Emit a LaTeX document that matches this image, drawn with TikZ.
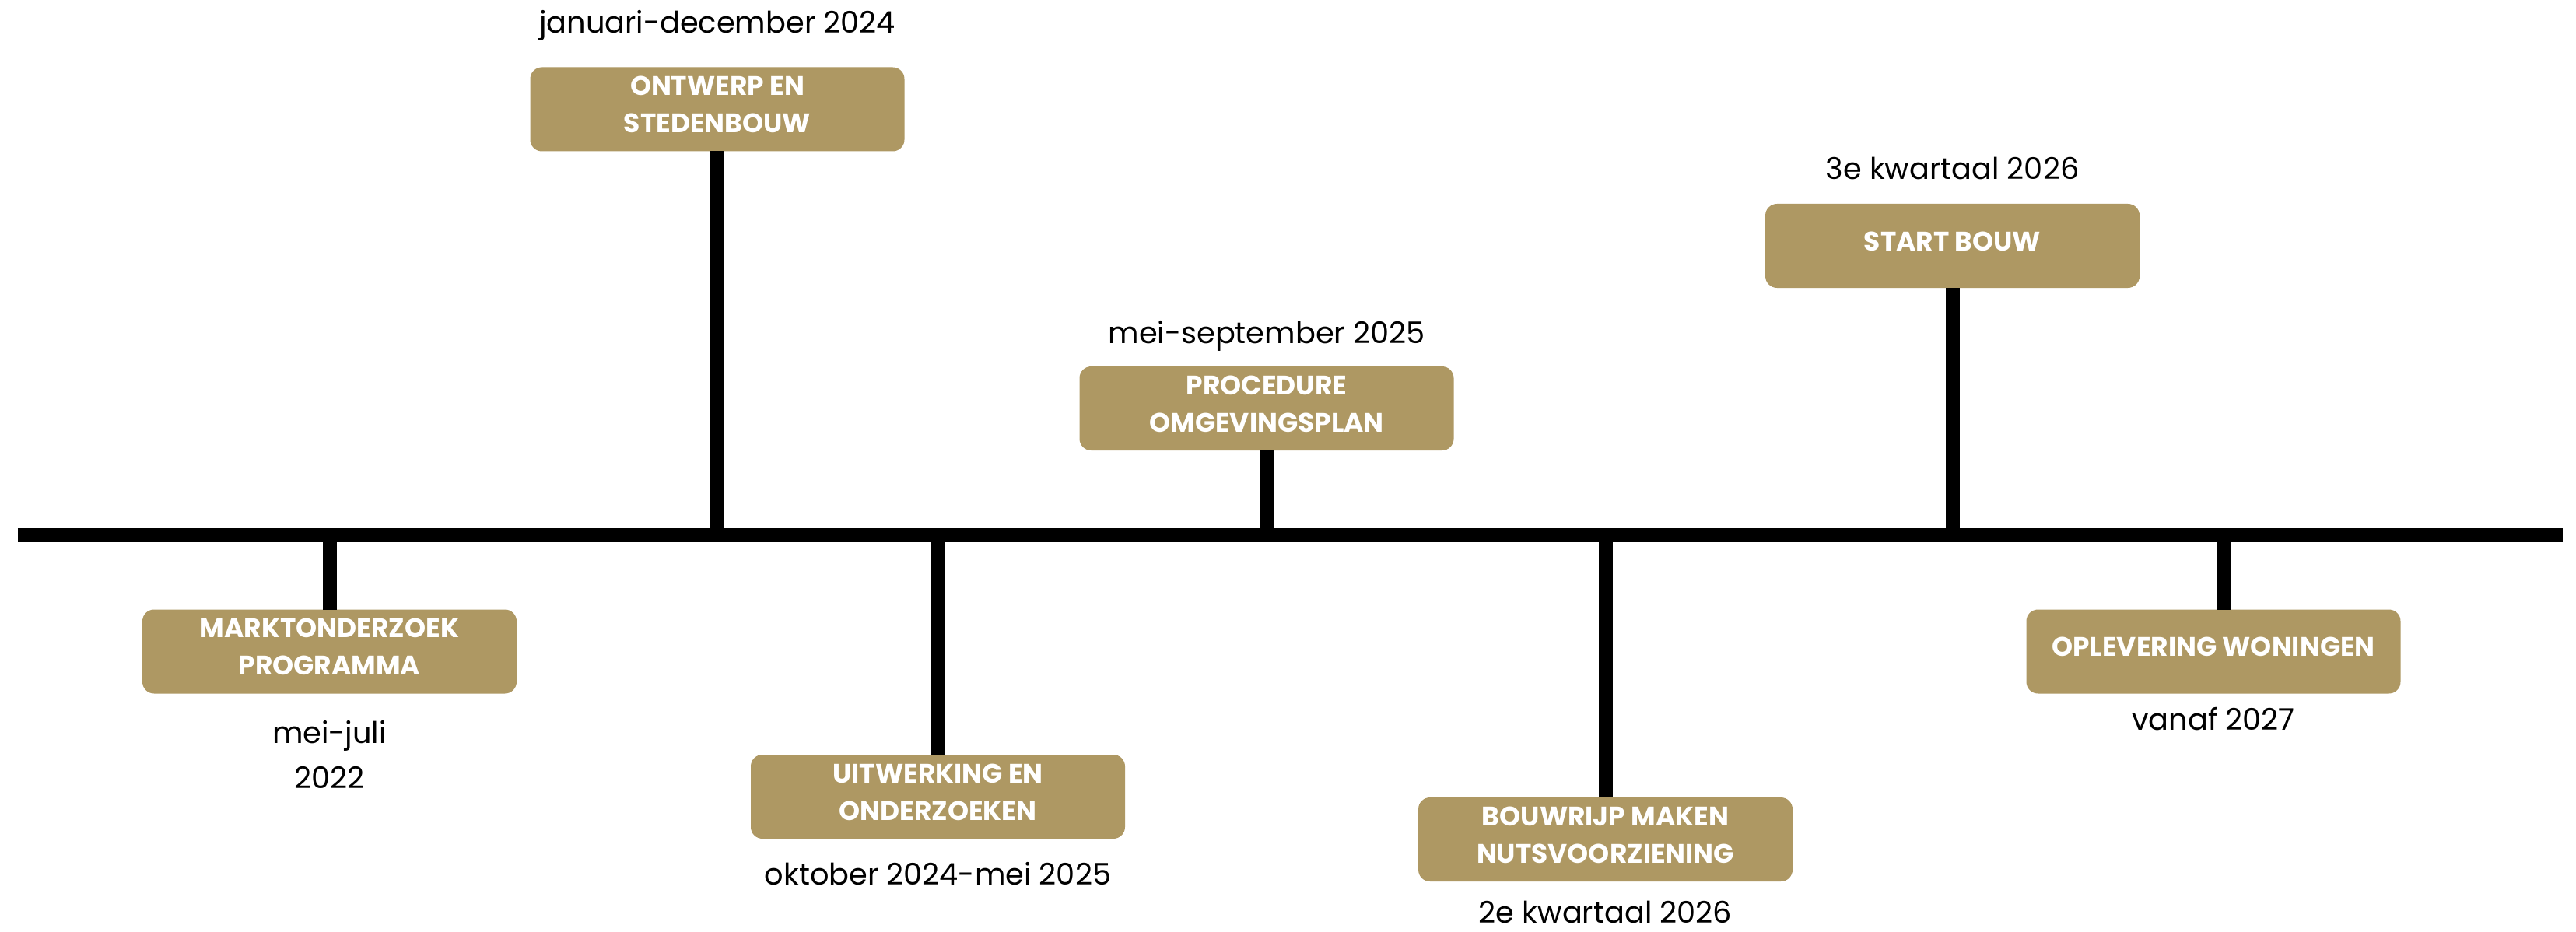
\documentclass[tikz,border=0pt]{standalone}
\usepackage{fontspec}
\setmainfont{Poppins}
\usepackage{xcolor}
\usepackage{tikz}
\usetikzlibrary{positioning}

\definecolor{goud}{RGB}{174,152,99}

\begin{document}
\begin{tikzpicture}[
  line width=0.18cm,
  fase/.style={fill=goud, text=white, rounded corners=0.15cm, align=center,
               minimum width=4.81cm, minimum height=1.08cm, inner sep=2pt,
               outer sep=0pt, text depth=0.12cm,
               font=\bfseries\fontsize{9.8}{13.6}\selectfont},
  datum/.style={align=center, inner sep=0pt,
                font=\fontsize{10.9}{16.5}\selectfont}
]
\useasboundingbox (0,0) rectangle (33.11,11.97);
\coordinate (links) at (0.23,5.09);
\coordinate (rechts) at (32.94,5.09);
\draw (links) -- (rechts);

\node[fase] (markt) at (4.235,3.595) {MARKTONDERZOEK\\PROGRAMMA};
\node[fase] (ontwerp) at (9.22,10.565) {ONTWERP EN\\STEDENBOUW};
\node[fase] (uitwerking) at (12.055,1.73) {UITWERKING EN\\ONDERZOEKEN};
\node[fase] (procedure) at (16.28,6.72) {PROCEDURE\\OMGEVINGSPLAN};
\node[fase] (bouwrijp) at (20.635,1.18) {BOUWRIJP MAKEN\\NUTSVOORZIENING};
\node[fase] (start) at (25.095,8.81) {START BOUW};
\node[fase] (oplevering) at (28.45,3.595) {OPLEVERING WONINGEN};

\node[datum, below=0.26cm of markt] (d-markt) {mei-juli\\2022};
\node[datum, above=0.25cm of ontwerp] (d-ontwerp) {januari-december 2024};
\node[datum, below=0.21cm of uitwerking] (d-uitwerking) {oktober 2024-mei 2025};
\node[datum, above=0.11cm of procedure] (d-procedure) {mei-september 2025};
\node[datum, below=0.16cm of bouwrijp] (d-bouwrijp) {2e kwartaal 2026};
\node[datum, above=0.22cm of start] (d-start) {3e kwartaal 2026};
\node[datum, below=0.09cm of oplevering] (d-oplevering) {vanaf 2027};

\draw (markt.north) -- (markt.north |- links);
\draw (ontwerp.south) -- (ontwerp.south |- links);
\draw (uitwerking.north) -- (uitwerking.north |- links);
\draw (procedure.south) -- (procedure.south |- links);
\draw (bouwrijp.north) -- (bouwrijp.north |- links);
\draw (start.south) -- (start.south |- links);
\draw ([xshift=0.13cm]oplevering.north) -- ([xshift=0.13cm]oplevering.north |- links);
\end{tikzpicture}
\end{document}
